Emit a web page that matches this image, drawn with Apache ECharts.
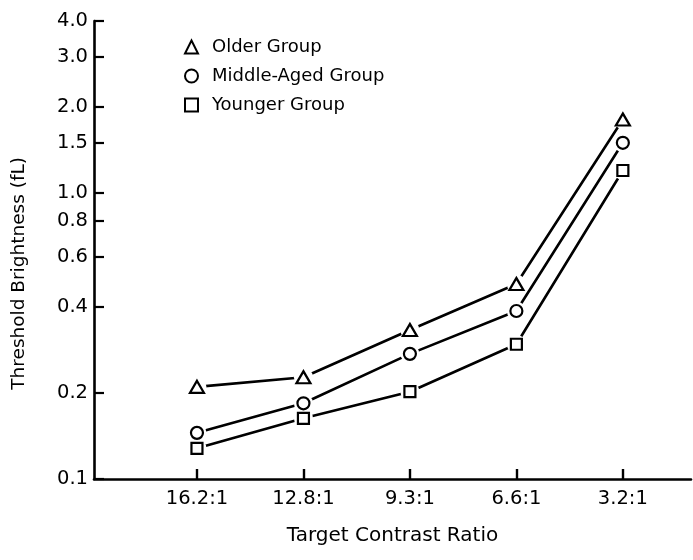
<!DOCTYPE html>
<html>
<head>
<meta charset="utf-8">
<script src="https://cdn.jsdelivr.net/npm/echarts@6/dist/echarts.min.js"></script>
<style>
html,body{margin:0;padding:0;background:#fff;}
#chart{width:693px;height:560px;}
</style>
</head>
<body>
<div id="chart"></div>
<script>
// ---- data ----
const categories = ['16.2:1', '12.8:1', '9.3:1', '6.6:1', '3.2:1'];
const categoryPositions = [1, 2, 3, 4, 5];
const olderGroup = [0.21, 0.227, 0.332, 0.481, 1.81];
const middleAgedGroup = [0.145, 0.184, 0.274, 0.387, 1.50];
const youngerGroup = [0.128, 0.163, 0.202, 0.296, 1.20];
const yTickValues = [0.1, 0.2, 0.4, 0.6, 0.8, 1.0, 1.5, 2.0, 3.0, 4.0];
const seriesNames = ['Older Group', 'Middle-Aged Group', 'Younger Group'];
const seriesSymbols = ['triangle', 'circle', 'rect'];
const yTitle = 'Threshold Brightness (fL)';
const xTitle = 'Target Contrast Ratio';

const FONT = 'DejaVu Sans';
const pairs = arr => categoryPositions.map((x, i) => [x, arr[i]]);
const groups = [olderGroup, middleAgedGroup, youngerGroup];
const symbolSizes = [[14, 12], 12, 11];

const series = [];
groups.forEach((g, i) => {
  series.push({
    name: seriesNames[i], type: 'line', data: pairs(g), symbol: 'none',
    lineStyle: { color: '#000', width: 2.6 }, z: 2, silent: true
  });
  series.push({
    name: seriesNames[i] + ' halo', type: 'scatter', data: pairs(g), symbol: 'circle',
    symbolSize: 19, itemStyle: { color: '#fff', opacity: 1 }, z: 3, silent: true
  });
});
groups.forEach((g, i) => {
  series.push({
    name: seriesNames[i] + ' marker', type: 'scatter', data: pairs(g), symbol: seriesSymbols[i],
    symbolSize: symbolSizes[i],
    itemStyle: { color: '#fff', borderColor: '#000', borderWidth: 2.2, opacity: 1 }, z: 4, silent: true
  });
});

const chart = echarts.init(document.getElementById('chart'), null, { renderer: 'canvas' });
chart.setOption({
  animation: false,
  backgroundColor: '#fff',
  grid: { left: 94, right: 2, top: 21, bottom: 81, containLabel: false, outerBoundsMode: 'none' },
  legend: {
    orient: 'vertical', left: 179, top: 33, itemWidth: 13, itemHeight: 13, itemGap: 11,
    selectedMode: false,
    textStyle: { fontFamily: FONT, fontSize: 18, color: '#000', lineHeight: 18, padding: [0, 0, 0, 9] },
    data: seriesNames.map((n, i) => ({
      name: n, icon: seriesSymbols[i],
      itemStyle: { color: '#fff', borderColor: '#000', borderWidth: 2 }
    }))
  },
  xAxis: {
    type: 'value', min: 0.033, max: 5.64,
    axisLine: { show: true, lineStyle: { color: '#000', width: 2.6 } },
    axisTick: { show: true, inside: true, length: 10, lineStyle: { color: '#000', width: 2.4 }, customValues: categoryPositions },
    axisLabel: {
      show: true, margin: 10, customValues: categoryPositions,
      formatter: v => categories[categoryPositions.indexOf(Math.round(v))] || '',
      fontFamily: FONT, fontSize: 19.5, color: '#000'
    },
    splitLine: { show: false },
    name: xTitle, nameLocation: 'middle', nameGap: 47,
    nameTextStyle: { fontFamily: FONT, fontSize: 20, color: '#000' }
  },
  yAxis: {
    type: 'log', logBase: 10, min: 0.1, max: 4,
    axisLine: { show: true, lineStyle: { color: '#000', width: 2.6 } },
    axisTick: { show: true, inside: true, length: 10, lineStyle: { color: '#000', width: 2.2 }, customValues: yTickValues },
    axisLabel: {
      show: true, margin: 6, customValues: yTickValues,
      formatter: v => Number(v).toFixed(1),
      fontFamily: FONT, fontSize: 19.5, color: '#000'
    },
    splitLine: { show: false },
    minorTick: { show: false }
  },
  graphic: [{
    type: 'text', left: 10, top: 274 - 117,
    rotation: Math.PI / 2,
    style: { text: yTitle, fontFamily: FONT, fontSize: 18.5, fill: '#000' }
  }],
  series: series
});
</script>
</body>
</html>
